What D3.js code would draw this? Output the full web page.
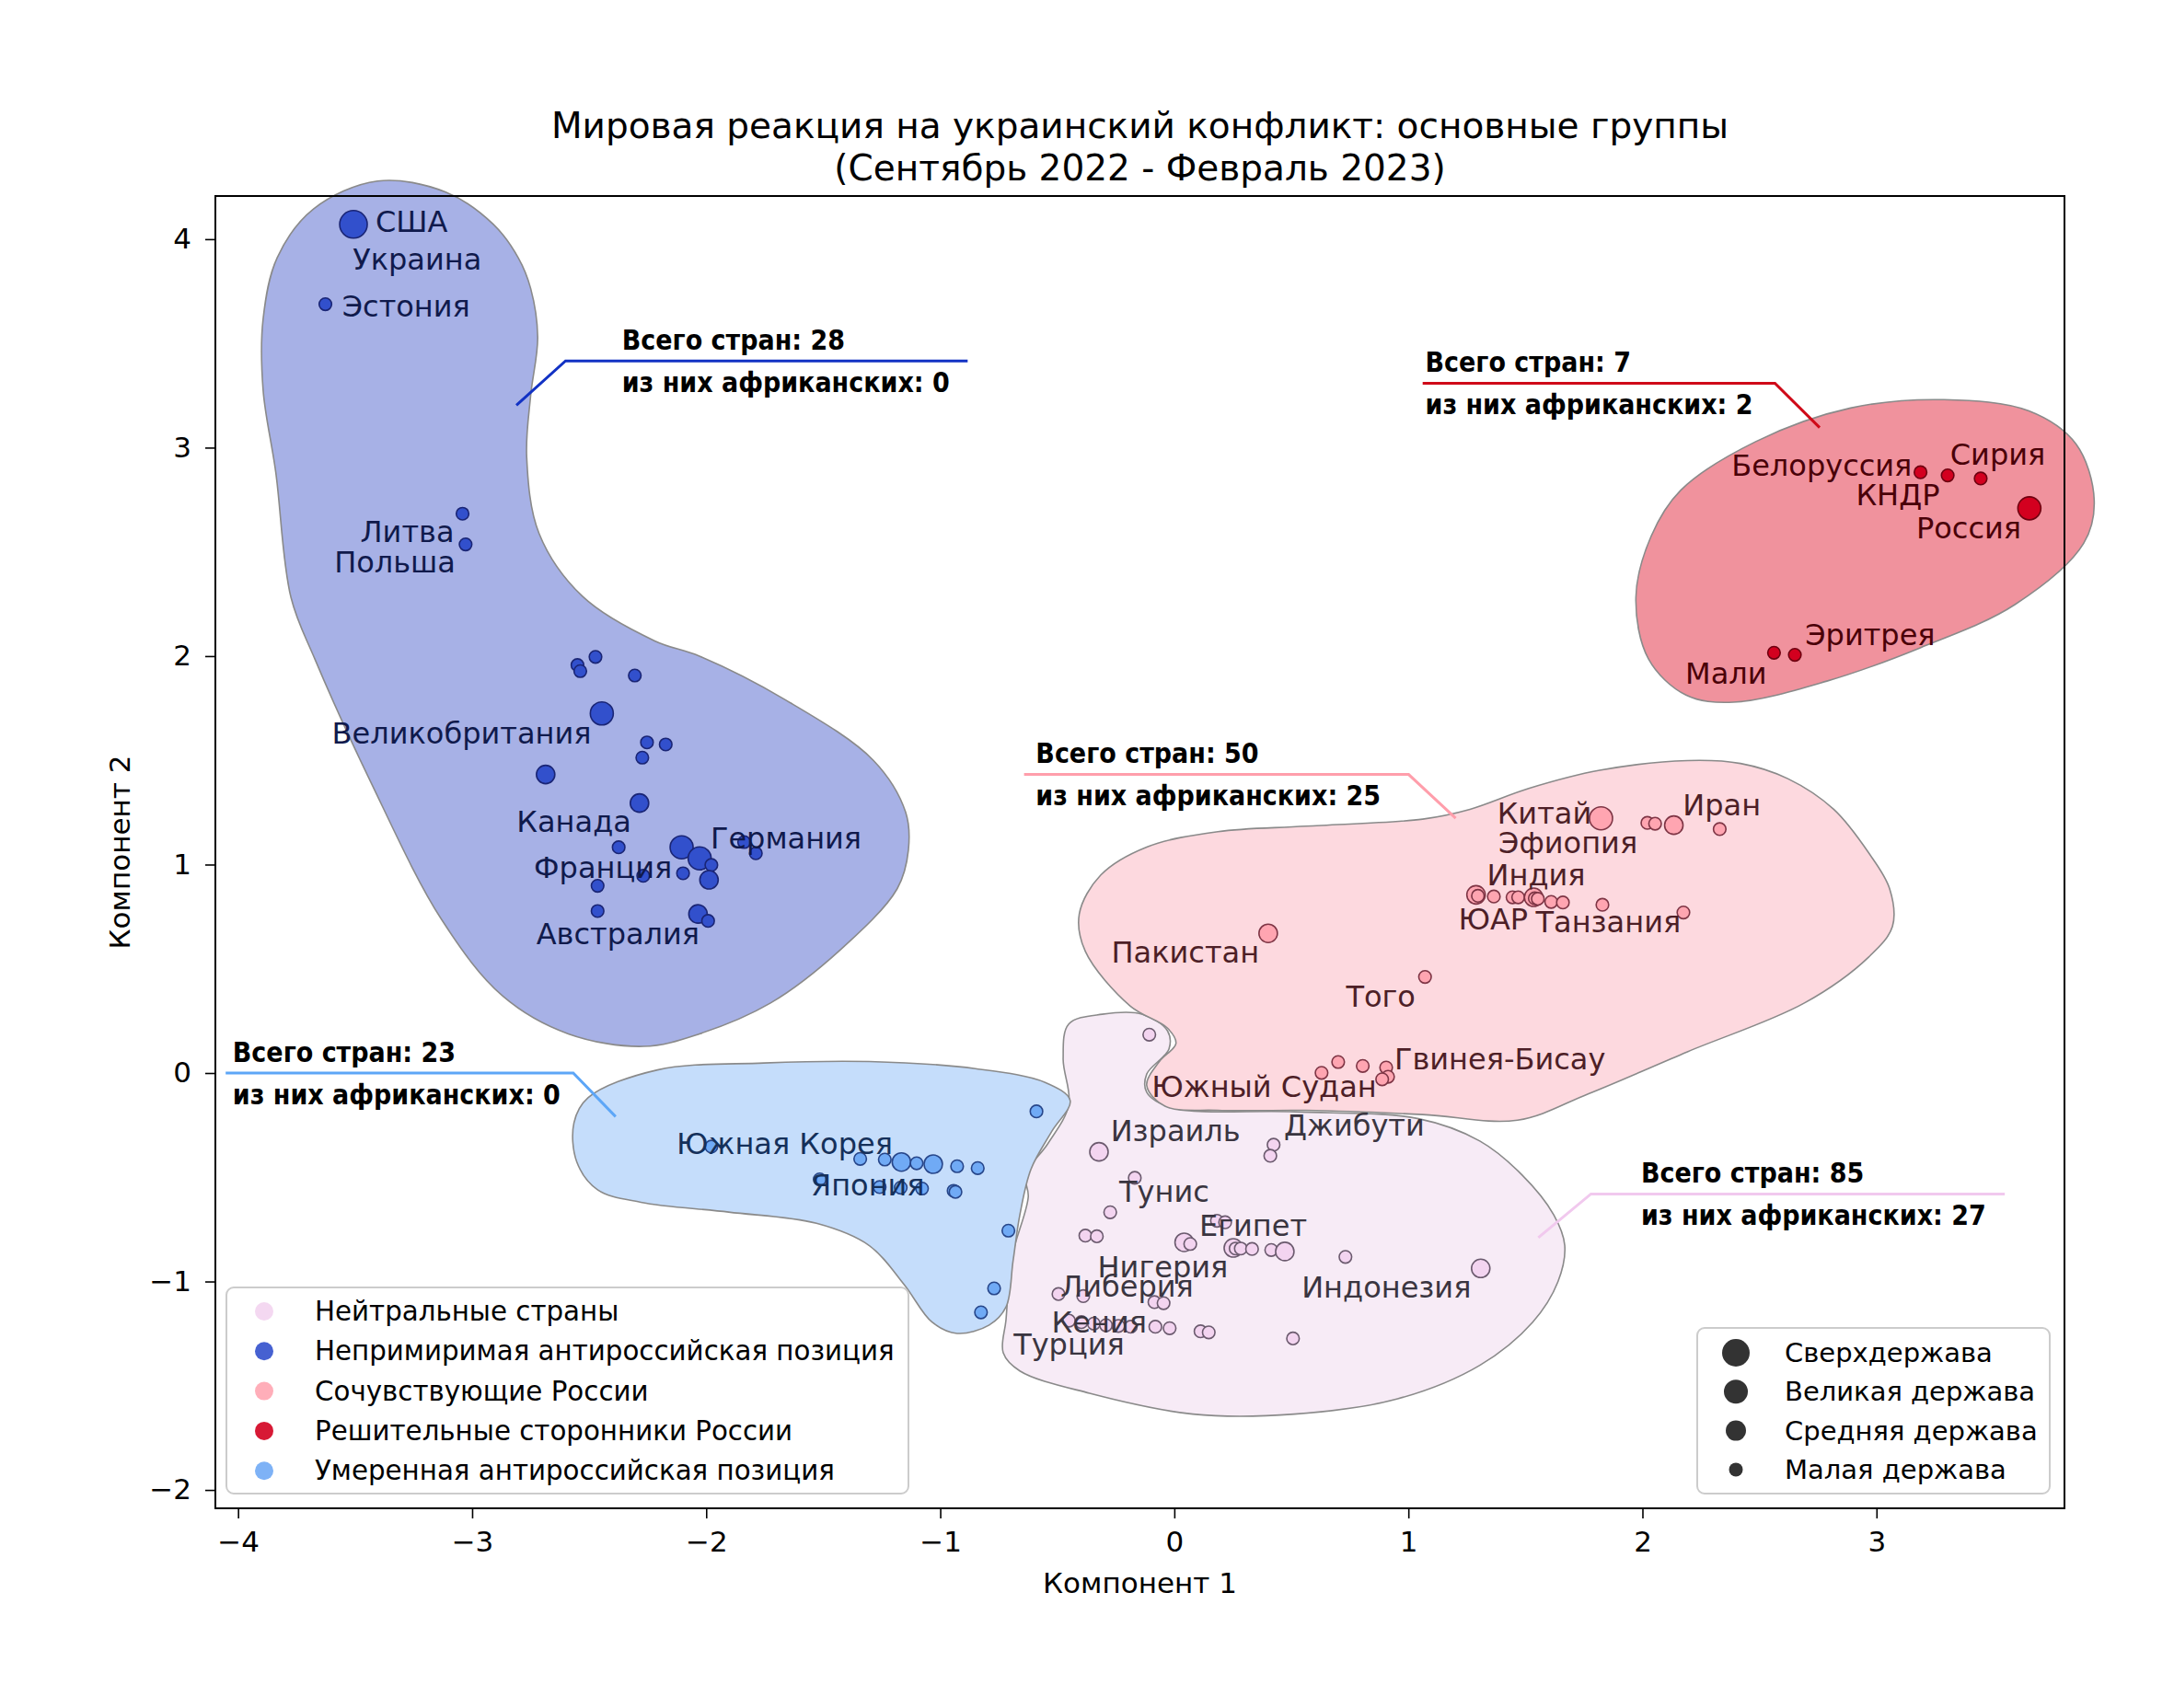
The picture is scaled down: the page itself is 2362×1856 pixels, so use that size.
<!DOCTYPE html>
<html>
<head>
<meta charset="utf-8">
<script src="https://cdn.jsdelivr.net/npm/d3@7"></script>
<style>
  body { margin: 0; background: #fff; }
  text { font-family: "DejaVu Sans", sans-serif; }
</style>
</head>
<body>
<svg id="chart" width="2362" height="1856"></svg>
<script>

// ---------- data ----------
var titleLines = ['Мировая реакция на украинский конфликт: основные группы', '(Сентябрь 2022 - Февраль 2023)'];
var xLabel = 'Компонент 1', yLabel = 'Компонент 2';
var xTicks = [-4, -3, -2, -1, 0, 1, 2, 3];
var yTicks = [-2, -1, 0, 1, 2, 3, 4];

// group keys, legend order
var groupKeys = ['neutral', 'strongAnti', 'sympathetic', 'strongPro', 'moderateAnti'];
var groupNames = ['Нейтральные страны', 'Непримиримая антироссийская позиция', 'Сочувствующие России',
                  'Решительные сторонники России', 'Умеренная антироссийская позиция'];
var sizeNames = ['Сверхдержава', 'Великая держава', 'Средняя держава', 'Малая держава'];
var sizeKeys = ['super', 'great', 'medium', 'small'];

// [name, component 1, component 2, power]
var strongAnti = [
  ['Украина', -3.49, 4.06, 'small'], ['США', -3.507, 4.071, 'super'], ['Эстония', -3.627, 3.688, 'small'],
  ['Литва', -3.041, 2.683, 'small'], ['Польша', -3.028, 2.536, 'small'],
  ['', -2.550, 1.957, 'small'], ['', -2.538, 1.928, 'small'], ['', -2.473, 1.996, 'small'], ['', -2.305, 1.907, 'small'],
  ['Великобритания', -2.446, 1.725, 'great'], ['', -2.253, 1.586, 'small'], ['', -2.173, 1.576, 'small'],
  ['', -2.273, 1.513, 'small'], ['', -2.686, 1.432, 'medium'], ['Канада', -2.285, 1.295, 'medium'],
  ['', -2.374, 1.083, 'small'], ['Франция', -2.105, 1.083, 'great'], ['Германия', -2.028, 1.030, 'great'],
  ['', -1.978, 0.998, 'small'], ['', -1.988, 0.927, 'medium'], ['', -2.099, 0.958, 'small'],
  ['', -2.269, 0.946, 'small'], ['', -2.464, 0.898, 'small'], ['', -2.464, 0.777, 'small'],
  ['Австралия', -2.035, 0.763, 'medium'], ['', -1.992, 0.730, 'small'], ['', -1.838, 1.108, 'small'],
  ['', -1.788, 1.054, 'small']
];
var strongPro = [
  ['Белоруссия', 3.188, 2.882, 'small'], ['КНДР', 3.304, 2.867, 'small'], ['Сирия', 3.445, 2.852, 'small'],
  ['Россия', 3.653, 2.709, 'great'], ['Мали', 2.562, 2.016, 'small'], ['Эритрея', 2.651, 2.006, 'small']
];
var sympathetic = [
  ['Китай', 1.823, 1.222, 'great'], ['', 2.021, 1.200, 'small'], ['', 2.054, 1.196, 'small'],
  ['Иран', 2.134, 1.189, 'medium'], ['', 2.330, 1.170, 'small'], ['Индия', 1.289, 0.855, 'medium'],
  ['', 1.297, 0.850, 'small'], ['ЮАР', 1.365, 0.847, 'small'], ['', 1.445, 0.843, 'small'],
  ['', 1.469, 0.843, 'small'], ['Эфиопия', 1.535, 0.843, 'medium'], ['', 1.540, 0.838, 'small'],
  ['', 1.553, 0.836, 'small'], ['', 1.610, 0.821, 'small'], ['', 1.660, 0.818, 'small'],
  ['Танзания', 1.829, 0.807, 'small'], ['', 2.175, 0.770, 'small'], ['Пакистан', 0.401, 0.670, 'medium'],
  ['Того', 1.071, 0.461, 'small'], ['', 0.700, 0.053, 'small'], ['', 0.805, 0.034, 'small'],
  ['Гвинея-Бисау', 0.905, 0.026, 'small'], ['Южный Судан', 0.629, 0.001, 'small'],
  ['', 0.913, -0.018, 'small'], ['', 0.888, -0.030, 'small']
];
var moderateAnti = [
  ['', -0.589, -0.184, 'small'], ['Южная Корея', -1.978, -0.353, 'small'], ['', -1.342, -0.412, 'small'],
  ['', -1.237, -0.415, 'small'], ['Япония', -1.166, -0.427, 'medium'], ['', -1.101, -0.433, 'small'],
  ['', -1.030, -0.437, 'medium'], ['', -0.928, -0.447, 'small'], ['', -0.840, -0.456, 'small'],
  ['', -1.515, -0.510, 'small'], ['', -1.259, -0.547, 'small'], ['', -1.169, -0.550, 'small'],
  ['', -1.078, -0.554, 'small'], ['', -0.943, -0.565, 'small'], ['', -0.935, -0.570, 'small'],
  ['', -0.709, -0.756, 'small'], ['', -0.770, -1.033, 'small'], ['', -0.826, -1.148, 'small']
];
var neutral = [
  ['', -0.107, 0.184, 'small'], ['Израиль', -0.322, -0.378, 'medium'], ['Джибути', 0.424, -0.344, 'small'],
  ['', 0.410, -0.397, 'small'], ['Тунис', -0.169, -0.503, 'small'], ['', -0.274, -0.668, 'small'],
  ['', -0.380, -0.780, 'small'], ['', -0.331, -0.783, 'small'], ['', 0.042, -0.812, 'medium'],
  ['', 0.068, -0.820, 'small'], ['Египет', 0.182, -0.709, 'small'], ['', 0.217, -0.716, 'small'],
  ['', 0.252, -0.839, 'medium'], ['', 0.262, -0.842, 'small'], ['', 0.284, -0.842, 'small'],
  ['', 0.332, -0.844, 'small'], ['', 0.414, -0.849, 'small'], ['', 0.472, -0.856, 'medium'],
  ['', 0.731, -0.882, 'small'], ['Индонезия', 1.309, -0.937, 'medium'], ['Либерия', -0.495, -1.060, 'small'],
  ['', -0.389, -1.070, 'small'], ['Нигерия', -0.085, -1.099, 'small'], ['', -0.046, -1.104, 'small'],
  ['Кения', -0.450, -1.188, 'small'], ['Турция', -0.397, -1.195, 'small'], ['', -0.344, -1.202, 'small'],
  ['', -0.292, -1.210, 'small'], ['', -0.239, -1.213, 'small'], ['', -0.186, -1.217, 'small'],
  ['', -0.081, -1.217, 'small'], ['', -0.020, -1.224, 'small'], ['', 0.112, -1.239, 'small'],
  ['', 0.147, -1.244, 'small'], ['', 0.507, -1.273, 'small']
];

// hull outlines, [component 1, component 2]
var hullStrongAnti = [
  [-3.404, 4.279], [-3.113, 4.226], [-2.910, 4.072], [-2.803, 3.911], [-2.750, 3.764], [-2.720, 3.530],
  [-2.750, 3.250], [-2.767, 2.956], [-2.714, 2.588], [-2.529, 2.287], [-2.220, 2.073], [-2.029, 2.000],
  [-1.666, 1.793], [-1.285, 1.499], [-1.148, 1.251], [-1.136, 1.071], [-1.184, 0.884], [-1.428, 0.590],
  [-1.725, 0.336], [-2.029, 0.188], [-2.267, 0.128], [-2.589, 0.188], [-2.869, 0.369], [-3.131, 0.737],
  [-3.434, 1.398], [-3.672, 1.986], [-3.774, 2.281], [-3.839, 2.882], [-3.893, 3.276], [-3.893, 3.617],
  [-3.833, 3.911], [-3.678, 4.145]
];
var hullStrongPro = [
  [1.972, 2.281], [2.037, 2.575], [2.163, 2.795], [2.484, 3.029], [2.889, 3.190], [3.288, 3.230],
  [3.651, 3.176], [3.853, 3.016], [3.930, 2.748], [3.885, 2.541], [3.591, 2.247], [3.187, 2.040],
  [2.788, 1.880], [2.389, 1.779], [2.186, 1.813], [2.026, 1.986]
];
var hullSympathetic = [
  [2.192, 1.499], [2.419, 1.485], [2.621, 1.412], [2.817, 1.265], [2.966, 1.057], [3.056, 0.884],
  [3.068, 0.703], [2.966, 0.556], [2.692, 0.336], [2.192, 0.102], [1.770, -0.099], [1.466, -0.226],
  [1.061, -0.199], [0.561, -0.179], [0.186, -0.179], [-0.040, -0.159], [-0.118, -0.059], [-0.064, 0.055],
  [0.007, 0.142], [-0.029, 0.215], [-0.189, 0.322], [-0.380, 0.583], [-0.406, 0.763], [-0.314, 0.950],
  [-0.118, 1.084], [0.186, 1.158], [0.561, 1.184], [1.061, 1.218], [1.263, 1.265], [1.514, 1.365],
  [1.817, 1.452]
];
var hullModerateAnti = [
  [-2.565, -0.239], [-2.505, -0.119], [-2.208, 0.015], [-1.755, 0.048], [-1.303, 0.055], [-0.850, 0.021],
  [-0.552, -0.045], [-0.445, -0.132], [-0.523, -0.279], [-0.612, -0.460], [-0.660, -0.680], [-0.689, -0.901],
  [-0.719, -1.122], [-0.791, -1.209], [-0.928, -1.249], [-1.035, -1.195], [-1.154, -1.015], [-1.303, -0.828],
  [-1.529, -0.721], [-1.904, -0.667], [-2.279, -0.620], [-2.464, -0.560], [-2.553, -0.426]
];
var hullNeutral = [
  [-0.451, 0.235], [-0.308, 0.282], [-0.136, 0.282], [-0.029, 0.202], [-0.023, 0.115], [-0.118, -0.005],
  [-0.118, -0.092], [-0.011, -0.166], [0.513, -0.186], [1.043, -0.219], [1.305, -0.326], [1.484, -0.487],
  [1.621, -0.680], [1.668, -0.827], [1.639, -1.001], [1.531, -1.195], [1.305, -1.402], [0.954, -1.563],
  [0.513, -1.636], [0.079, -1.636], [-0.362, -1.536], [-0.660, -1.429], [-0.731, -1.342], [-0.719, -1.182],
  [-0.695, -0.888], [-0.624, -0.594], [-0.636, -0.487], [-0.541, -0.340], [-0.451, -0.152], [-0.475, 0.068]
];

// country labels [text, component 1, component 2] (centre of the text)
var labelsStrongAnti = [
  ['США', -3.259, 4.085], ['Украина', -3.235, 3.904], ['Эстония', -3.282, 3.678], ['Литва', -3.277, 2.594],
  ['Польша', -3.330, 2.448], ['Великобритания', -3.045, 1.630], ['Канада', -2.565, 1.204],
  ['Германия', -1.659, 1.124], ['Франция', -2.441, 0.985], ['Австралия', -2.377, 0.666]
];
var labelsStrongPro = [
  ['Белоруссия', 2.766, 2.913], ['Сирия', 3.518, 2.967], ['КНДР', 3.091, 2.774], ['Россия', 3.394, 2.614],
  ['Эритрея', 2.973, 2.102], ['Мали', 2.357, 1.916]
];
var labelsSympathetic = [
  ['Китай', 1.581, 1.245], ['Иран', 2.339, 1.284], ['Эфиопия', 1.682, 1.104], ['Индия', 1.546, 0.951],
  ['ЮАР', 1.362, 0.739], ['Танзания', 1.854, 0.725], ['Пакистан', 0.047, 0.579], ['Того', 0.882, 0.366],
  ['Гвинея-Бисау', 1.391, 0.066], ['Южный Судан', 0.384, -0.066]
];
var labelsModerateAnti = [['Южная Корея', -1.665, -0.339], ['Япония', -1.310, -0.539]];
var labelsNeutral = [
  ['Израиль', 0.005, -0.279], ['Джибути', 0.769, -0.252], ['Тунис', -0.043, -0.571], ['Египет', 0.337, -0.732],
  ['Нигерия', -0.049, -0.931], ['Либерия', -0.202, -1.024], ['Индонезия', 0.906, -1.030],
  ['Кения', -0.321, -1.197], ['Турция', -0.450, -1.303]
];

// callout counts per group
var totalCountries = [85, 28, 50, 7, 23];
var africanCountries = [27, 0, 25, 2, 0];

// ---------- layout / style ----------
var W = 2362, H = 1856;
var plot = { left: 234, right: 2243, top: 213, bottom: 1639 };

var colors = {
  neutral:      { fill: '#f3d4f0', stroke: '#6b5a6e', hull: '#f7ebf6', label: '#3a3540', call: '#f1c9ee' },
  strongAnti:   { fill: '#3250cc', stroke: '#1a2575', hull: '#a7b1e6', label: '#101a4c', call: '#1232c4' },
  sympathetic:  { fill: '#ffa5b1', stroke: '#7e3545', hull: '#fdd9df', label: '#4d1f27', call: '#ff9eab' },
  strongPro:    { fill: '#d3001f', stroke: '#6e0010', hull: '#f0929d', label: '#4a0008', call: '#cf0a18' },
  moderateAnti: { fill: '#70aaf5', stroke: '#27468a', hull: '#c5ddfb', label: '#15305a', call: '#5da6f7' }
};
var radius = { super: 15, great: 12.5, medium: 10, small: 6.8 };
var legendRadius = [15, 13, 11, 7.5];

// callout geometry: polyline from far end, bend, tip; text left x
var calloutLayout = {
  neutral:      { textX: 1.994,  path: [[3.548, -0.580], [1.780, -0.580], [1.555, -0.790]] },
  strongAnti:   { textX: -2.360, path: [[-0.883, 3.416], [-2.601, 3.416], [-2.811, 3.203]] },
  sympathetic:  { textX: -0.592, path: [[-0.642, 1.432], [1.001, 1.432], [1.202, 1.222]] },
  strongPro:    { textX: 1.072,  path: [[1.061, 3.309], [2.566, 3.309], [2.757, 3.096]] },
  moderateAnti: { textX: -4.023, path: [[-4.053, 0.0], [-2.568, 0.0], [-2.387, -0.209]] }
};

var pointsByGroup = { neutral: neutral, strongAnti: strongAnti, sympathetic: sympathetic, strongPro: strongPro, moderateAnti: moderateAnti };
var hullsByGroup = { neutral: hullNeutral, strongAnti: hullStrongAnti, sympathetic: hullSympathetic, strongPro: hullStrongPro, moderateAnti: hullModerateAnti };
var labelsByGroup = { neutral: labelsNeutral, strongAnti: labelsStrongAnti, sympathetic: labelsSympathetic, strongPro: labelsStrongPro, moderateAnti: labelsModerateAnti };

// ---------- scales ----------
var x = d3.scaleLinear().domain([-4.097, 3.803]).range([plot.left, plot.right]);
var y = d3.scaleLinear().domain([-2.088, 4.207]).range([plot.bottom, plot.top]);

var svg = d3.select('#chart');
svg.append('rect').attr('width', W).attr('height', H).attr('fill', '#fff');

// hulls
var hullLine = d3.line().x(function(d) { return x(d[0]); }).y(function(d) { return y(d[1]); })
  .curve(d3.curveCatmullRomClosed.alpha(0.5));
var hullOrder = ['neutral', 'sympathetic', 'moderateAnti', 'strongAnti', 'strongPro'];
svg.append('g').selectAll('path')
  .data(hullOrder)
  .enter()
  .append('path')
  .attr('d', function(k) { return hullLine(hullsByGroup[k]); })
  .attr('fill', function(k) { return colors[k].hull; })
  .attr('stroke', '#8a8a8a')
  .attr('stroke-width', 1.6);

// points
hullOrder.forEach(function(k) {
  svg.append('g').selectAll('circle')
    .data(pointsByGroup[k])
    .enter()
    .append('circle')
    .attr('cx', function(d) { return x(d[1]); })
    .attr('cy', function(d) { return y(d[2]); })
    .attr('r', function(d) { return radius[d[3]]; })
    .attr('fill', colors[k].fill)
    .attr('stroke', colors[k].stroke)
    .attr('stroke-width', 1.6);
});

// country labels
hullOrder.forEach(function(k) {
  svg.append('g').selectAll('text')
    .data(labelsByGroup[k])
    .enter()
    .append('text')
    .attr('x', function(d) { return x(d[1]); })
    .attr('y', function(d) { return y(d[2]); })
    .attr('text-anchor', 'middle')
    .attr('dominant-baseline', 'central')
    .attr('font-size', 32)
    .attr('fill', colors[k].label)
    .text(function(d) { return d[0]; });
});

// callouts
var callLine = d3.line().x(function(d) { return x(d[0]); }).y(function(d) { return y(d[1]); });
groupKeys.forEach(function(k, i) {
  var c = calloutLayout[k];
  var g = svg.append('g');
  g.append('path')
    .attr('d', callLine(c.path))
    .attr('fill', 'none')
    .attr('stroke', colors[k].call)
    .attr('stroke-width', 3);
  var ly = y(c.path[0][1]);
  var lines = ['Всего стран: ' + totalCountries[i], 'из них африканских: ' + africanCountries[i]];
  [-23, 23].forEach(function(off, j) {
    g.append('text')
      .attr('transform', 'translate(' + x(c.textX) + ',' + (ly + off) + ') scale(0.87,1)')
      .attr('dominant-baseline', 'central')
      .attr('font-size', 31)
      .attr('font-weight', 'bold')
      .attr('fill', '#000')
      .text(lines[j]);
  });
});

// axes
var fmt = d3.format('d');
var xAxis = svg.append('g')
  .attr('transform', 'translate(0,' + plot.bottom + ')')
  .call(d3.axisBottom(x).tickValues(xTicks).tickFormat(fmt).tickSize(11).tickPadding(14));
var yAxis = svg.append('g')
  .attr('transform', 'translate(' + plot.left + ',0)')
  .call(d3.axisLeft(y).tickValues(yTicks).tickFormat(fmt).tickSize(11).tickPadding(15));
[xAxis, yAxis].forEach(function(a) {
  a.select('.domain').remove();
  a.selectAll('line').attr('stroke', '#000').attr('stroke-width', 1.6);
  a.selectAll('text').attr('font-size', 31).attr('font-family', '"DejaVu Sans", sans-serif').attr('fill', '#000');
});

svg.append('rect')
  .attr('x', plot.left).attr('y', plot.top)
  .attr('width', plot.right - plot.left).attr('height', plot.bottom - plot.top)
  .attr('fill', 'none').attr('stroke', '#000').attr('stroke-width', 2);

svg.append('text')
  .attr('x', (plot.left + plot.right) / 2).attr('y', 1720)
  .attr('text-anchor', 'middle').attr('dominant-baseline', 'central')
  .attr('font-size', 31).text(xLabel);
svg.append('text')
  .attr('transform', 'translate(130,' + (plot.top + plot.bottom) / 2 + ') rotate(-90)')
  .attr('text-anchor', 'middle').attr('dominant-baseline', 'central')
  .attr('font-size', 31).text(yLabel);

// title
svg.append('g').selectAll('text')
  .data(titleLines)
  .enter()
  .append('text')
  .attr('x', (plot.left + plot.right) / 2)
  .attr('y', function(d, i) { return 136 + i * 46; })
  .attr('text-anchor', 'middle')
  .attr('dominant-baseline', 'central')
  .attr('font-size', 39)
  .text(function(d) { return d; });

// colour legend
var leg1 = svg.append('g');
leg1.append('rect')
  .attr('x', 246).attr('y', 1399).attr('width', 741).attr('height', 224)
  .attr('rx', 8).attr('fill', '#fff').attr('fill-opacity', 0.85)
  .attr('stroke', '#cccccc').attr('stroke-width', 2);
groupKeys.forEach(function(k, i) {
  var cy = 1425 + i * 43.3;
  leg1.append('circle').attr('cx', 287).attr('cy', cy).attr('r', 10)
    .attr('fill', colors[k].fill).attr('fill-opacity', 0.9);
  leg1.append('text').attr('x', 342).attr('y', cy).attr('dominant-baseline', 'central')
    .attr('font-size', 29.3).text(groupNames[i]);
});

// size legend
var leg2 = svg.append('g');
leg2.append('rect')
  .attr('x', 1844).attr('y', 1443).attr('width', 383).attr('height', 180)
  .attr('rx', 8).attr('fill', '#fff').attr('fill-opacity', 0.85)
  .attr('stroke', '#cccccc').attr('stroke-width', 2);
sizeKeys.forEach(function(k, i) {
  var cy = 1470 + i * 42.3;
  leg2.append('circle').attr('cx', 1886).attr('cy', cy).attr('r', legendRadius[i])
    .attr('fill', '#333');
  leg2.append('text').attr('x', 1939).attr('y', cy).attr('dominant-baseline', 'central')
    .attr('font-size', 29).text(sizeNames[i]);
});

</script>
</body>
</html>
